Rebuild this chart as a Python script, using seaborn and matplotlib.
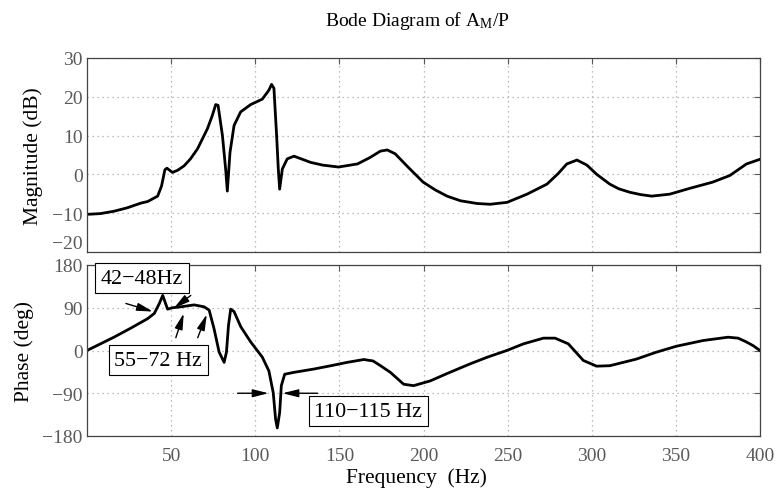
import matplotlib
matplotlib.use("Agg")
import matplotlib.pyplot as plt
import seaborn as sns
import pandas as pd

# ---- data ----
freq_mag = [0, 8, 16, 24, 32, 36, 42, 44.3, 46.3, 47.5, 50.8, 54, 57.7, 61.5, 65.7, 71.6, 74.5,
            76.5, 77.9, 80.5, 82.4, 83.4, 85, 87.4, 91.3, 97.3, 104.2, 108.1, 109.7, 111.1,
            112.7, 113.7, 114.5, 116.1, 119, 123, 132.9, 140, 149.5, 160.8, 168, 174.4, 178.5,
            183.2, 191, 199.8, 207, 214, 222, 231.9, 239.6, 249.7, 261.5, 273.4, 280, 285.2,
            291.2, 297.1, 303, 310.7, 316, 322.6, 329, 335.6, 346.3, 358.2, 371.8, 382, 392, 400]
mag_db = [-10.3, -10.1, -9.5, -8.6, -7.4, -7.0, -5.6, -3.0, 1.2, 1.6, 0.5, 1.1, 2.2, 4.0, 6.6,
          11.8, 15.2, 18.0, 17.8, 10.0, 1.4, -4.3, 5.7, 12.6, 16.1, 18.0, 19.4, 21.7, 23.2,
          22.2, 10.0, 1.4, -3.8, 1.4, 4.0, 4.7, 3.1, 2.4, 1.9, 2.7, 4.3, 6.0, 6.3, 5.3, 1.8,
          -2.0, -4.0, -5.6, -6.8, -7.5, -7.7, -7.2, -5.1, -2.5, 0.2, 2.7, 3.7, 2.4, 0.0, -2.5,
          -3.7, -4.6, -5.2, -5.6, -5.1, -3.6, -2.0, -0.3, 2.7, 3.9]

freq_phase = [0, 8, 16, 26, 36, 40, 43, 45, 46.3, 47.9, 50.8, 55.8, 63.7, 69.6, 72.6, 75.5,
              78.5, 81.5, 82.9, 84.1, 85.4, 87.4, 91.4, 97.3, 104.2, 108.1, 110.7, 112.1,
              113.1, 114.5, 115.5, 117.5, 123, 134.9, 145, 154.6, 164.5, 170, 174, 180.3,
              188.2, 194.1, 204, 215, 227.8, 238, 249.5, 259.4, 271.3, 278.2, 286.1, 295,
              302.9, 310.8, 326.6, 338, 350.3, 366.2, 381, 387, 391.9, 396, 400]
phase_deg = [0, 14, 28, 47, 67, 78, 99, 116, 103, 87, 90, 92, 96, 92, 85, 46, -3, -25, -3, 53,
             87, 82, 50, 18, -14, -43, -89, -145, -163, -131, -74, -50, -46, -39, -32, -25,
             -19, -22, -31, -46, -71, -74, -64, -47, -28, -14, 0, 14, 26, 26, 14, -21, -33,
             -32, -18, -4, 9, 21, 28, 26, 18, 10, 0]

mag_ticks = [-20, -10, 0, 10, 20, 30]
phase_ticks = [-180, -90, 0, 90, 180]
freq_ticks = [50, 100, 150, 200, 250, 300, 350, 400]

notes = ["42\u221248Hz", "55\u221272 Hz", "110\u2212115 Hz"]
note_xy = [(32.6, 152.0), (42.4, -20.8), (167.2, -128.3)]
arrows = [((23.1, 99), (39.1, 82)), ((61.7, 116), (51.6, 89)),
          ((52.8, 27), (57.5, 78)), ((65.8, 27), (71.2, 76)),
          ((89.5, -90), (107.9, -90)), ((137, -90), (116.2, -90))]

# ---- style ----
sns.set_theme(style="white")
plt.rcParams["font.family"] = ["Liberation Serif", "DejaVu Serif"]
plt.rcParams["mathtext.fontset"] = "custom"
plt.rcParams["mathtext.rm"] = "Liberation Serif"
plt.rcParams["mathtext.it"] = "Liberation Serif:italic"
plt.rcParams["axes.unicode_minus"] = True

W, H = 776, 489
fig = plt.figure(figsize=(W / 100, H / 100), dpi=100)
L, R = 87 / W, 760 / W
ax1 = fig.add_axes([L, 1 - 253 / H, R - L, (253 - 59) / H])
ax2 = fig.add_axes([L, 1 - 437 / H, R - L, (437 - 266) / H])

df_mag = pd.DataFrame({"f": freq_mag, "m": mag_db})
df_ph = pd.DataFrame({"f": freq_phase, "p": phase_deg})
sns.lineplot(data=df_mag, x="f", y="m", ax=ax1, color="black", lw=2.0, estimator=None)
sns.lineplot(data=df_ph, x="f", y="p", ax=ax2, color="black", lw=2.0, estimator=None)

tick_col = "#5a5a5a"
for ax, yt in ((ax1, mag_ticks), (ax2, phase_ticks)):
    ax.set_xlim(0, 400)
    ax.set_ylim(yt[0], yt[-1])
    ax.set_yticks(yt)
    ax.set_xticks(freq_ticks)
    ax.grid(True, color="#a8a8a8", linestyle=(0, (1, 3)), lw=0.9)
    ax.tick_params(direction="in", top=True, right=True, length=4, width=0.8,
                   colors=tick_col, labelsize=14, pad=3)
    ax.tick_params(axis="x", pad=8)
    for s in ax.spines.values():
        s.set_color("#444444")
        s.set_linewidth(0.9)
    ax.set_xlabel("")
    ax.set_ylabel("")

ax1.tick_params(axis="x", labelbottom=False)
# nudge the lowest magnitude label up a little so it does not collide with "180"
ax1.get_yticklabels()[0].set_va("bottom")

ax1.set_ylabel("Magnitude (dB)", fontsize=15.5, color="black", va="center")
ax1.yaxis.set_label_coords((33 - 87) / 673, 0.5)
ax2.set_ylabel("Phase (deg)", fontsize=15.5, color="black", va="center")
ax2.yaxis.set_label_coords((24 - 87) / 673, 0.5)
ax2.set_xlabel("Frequency  (Hz)", fontsize=15.5, color="black", va="baseline")
ax2.xaxis.set_label_coords((416 - 87) / 673, (437 - 483) / 171)

fig.text(417 / W, 1 - 26 / H, r"Bode Diagram of A$_{\mathrm{M}}$/P", fontsize=14,
         ha="center", va="baseline", color="black")

for (x0, y0), (x1, y1) in arrows:
    ax2.annotate("", xy=(x1, y1), xytext=(x0, y0),
                 arrowprops=dict(arrowstyle="-|>,head_length=0.8,head_width=0.2",
                                 color="black", lw=1.0, shrinkA=0, shrinkB=0))

for s, (x, y) in zip(notes, note_xy):
    ax2.text(x, y, s, fontsize=15.8, ha="center", va="center", color="black",
             bbox=dict(boxstyle="square,pad=0.25", fc="white", ec="black", lw=0.8))

fig.savefig("out.png", dpi=100)
